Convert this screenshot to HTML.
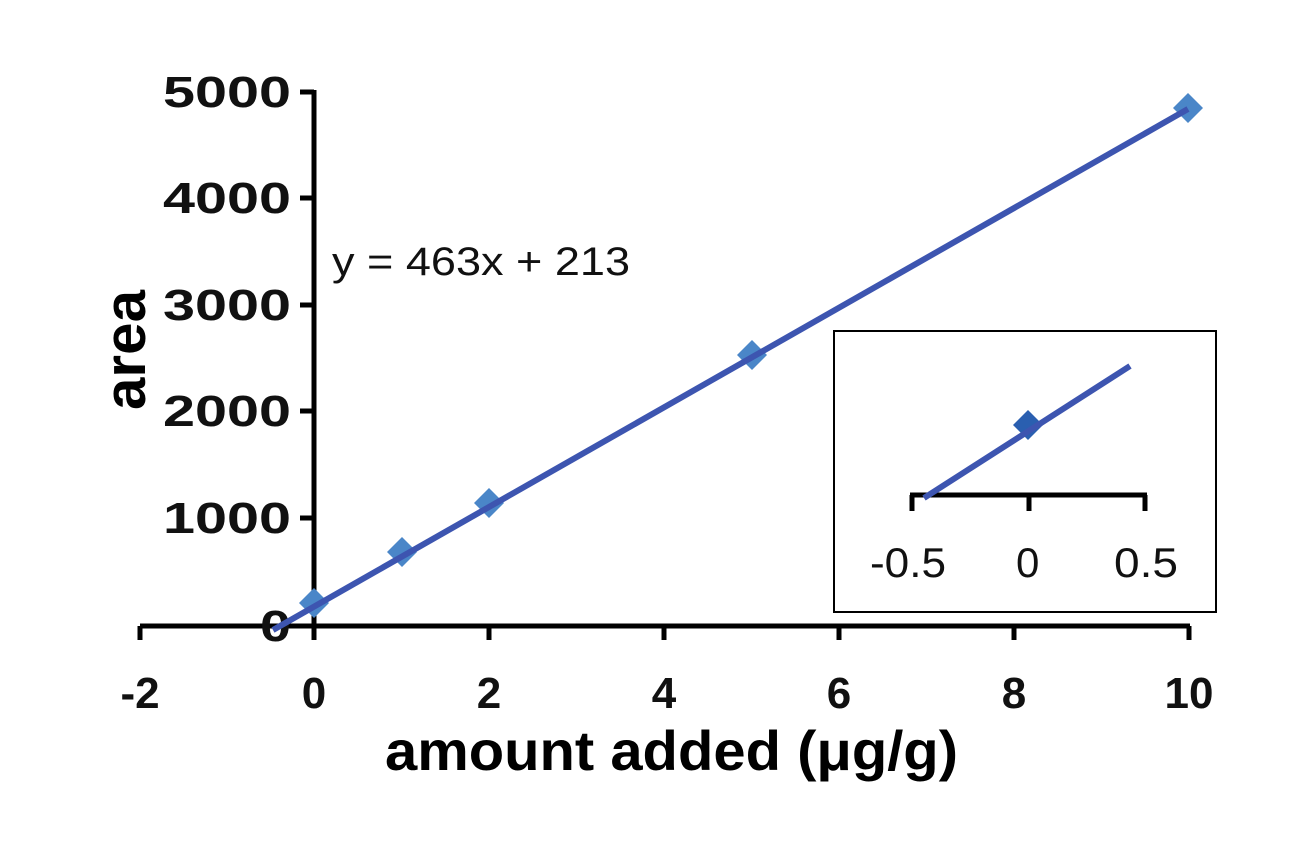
<!DOCTYPE html>
<html><head><style>body{margin:0;background:#fff}svg{display:block}</style></head>
<body>
<svg width="1309" height="848" viewBox="0 0 1309 848" font-family="Liberation Sans, sans-serif">
<rect width="1309" height="848" fill="#fff"/>
<g stroke="#000" stroke-width="5" fill="none">
<line x1="314" y1="90" x2="314" y2="628"/>
<line x1="140" y1="626" x2="1190" y2="626"/>
<line x1="300" y1="92" x2="314" y2="92"/>
<line x1="300" y1="198" x2="314" y2="198"/>
<line x1="300" y1="305" x2="314" y2="305"/>
<line x1="300" y1="411" x2="314" y2="411"/>
<line x1="300" y1="518" x2="314" y2="518"/>
<line x1="140" y1="626" x2="140" y2="640"/>
<line x1="314" y1="626" x2="314" y2="640"/>
<line x1="489" y1="626" x2="489" y2="640"/>
<line x1="664" y1="626" x2="664" y2="640"/>
<line x1="839" y1="626" x2="839" y2="640"/>
<line x1="1014" y1="626" x2="1014" y2="640"/>
<line x1="1189" y1="626" x2="1189" y2="640"/>
</g>
<g font-size="44" font-weight="bold" fill="#111">
<text x="163" y="107" textLength="128" lengthAdjust="spacingAndGlyphs">5000</text>
<text x="163" y="213" textLength="128" lengthAdjust="spacingAndGlyphs">4000</text>
<text x="163" y="320" textLength="128" lengthAdjust="spacingAndGlyphs">3000</text>
<text x="163" y="426" textLength="128" lengthAdjust="spacingAndGlyphs">2000</text>
<text x="163" y="533" textLength="128" lengthAdjust="spacingAndGlyphs">1000</text>
<text x="260" y="641" textLength="31" lengthAdjust="spacingAndGlyphs">0</text>
</g>
<g font-size="44" font-weight="bold" text-anchor="middle" fill="#111">
<text x="140" y="708">-2</text>
<text x="314" y="708">0</text>
<text x="489" y="708">2</text>
<text x="664" y="708">4</text>
<text x="839" y="708">6</text>
<text x="1014" y="708">8</text>
<text x="1189" y="708">10</text>
</g>
<text x="332" y="275" font-size="40" fill="#111" textLength="298" lengthAdjust="spacingAndGlyphs">y = 463x + 213</text>
<text transform="translate(145,350) rotate(-90)" x="-60" font-size="58" font-weight="bold" fill="#000" textLength="120" lengthAdjust="spacingAndGlyphs">area</text>
<text x="385" y="770" font-size="56" font-weight="bold" fill="#000" textLength="573" lengthAdjust="spacingAndGlyphs">amount added (μg/g)</text>
<g fill="#4a86c8">
<path d="M314 588 l15 15 -15 15 -15 -15z"/>
<path d="M402 537 l15 15 -15 15 -15 -15z"/>
<path d="M489 488 l15 15 -15 15 -15 -15z"/>
<path d="M752 340 l15 15 -15 15 -15 -15z"/>
<path d="M1188 93 l15 15 -15 15 -15 -15z"/>
</g>
<line x1="273" y1="630" x2="1188" y2="109" stroke="#3d55b0" stroke-width="6"/>
<rect x="834" y="331" width="382" height="281" fill="#fff" stroke="#000" stroke-width="2"/>
<g stroke="#000" stroke-width="5" fill="none">
<line x1="910" y1="495" x2="1147" y2="495"/>
<line x1="912" y1="495" x2="912" y2="511"/>
<line x1="1029" y1="495" x2="1029" y2="511"/>
<line x1="1145" y1="495" x2="1145" y2="511"/>
</g>
<path d="M1028 410 l15 15 -15 15 -15 -15z" fill="#2a5fb0"/>
<line x1="924" y1="498" x2="1130" y2="366" stroke="#3d55b0" stroke-width="6"/>
<g font-size="42" fill="#111">
<text x="870" y="577" textLength="76" lengthAdjust="spacingAndGlyphs">-0.5</text>
<text x="1016" y="577">0</text>
<text x="1114" y="577" textLength="64" lengthAdjust="spacingAndGlyphs">0.5</text>
</g>
</svg>
</body></html>
